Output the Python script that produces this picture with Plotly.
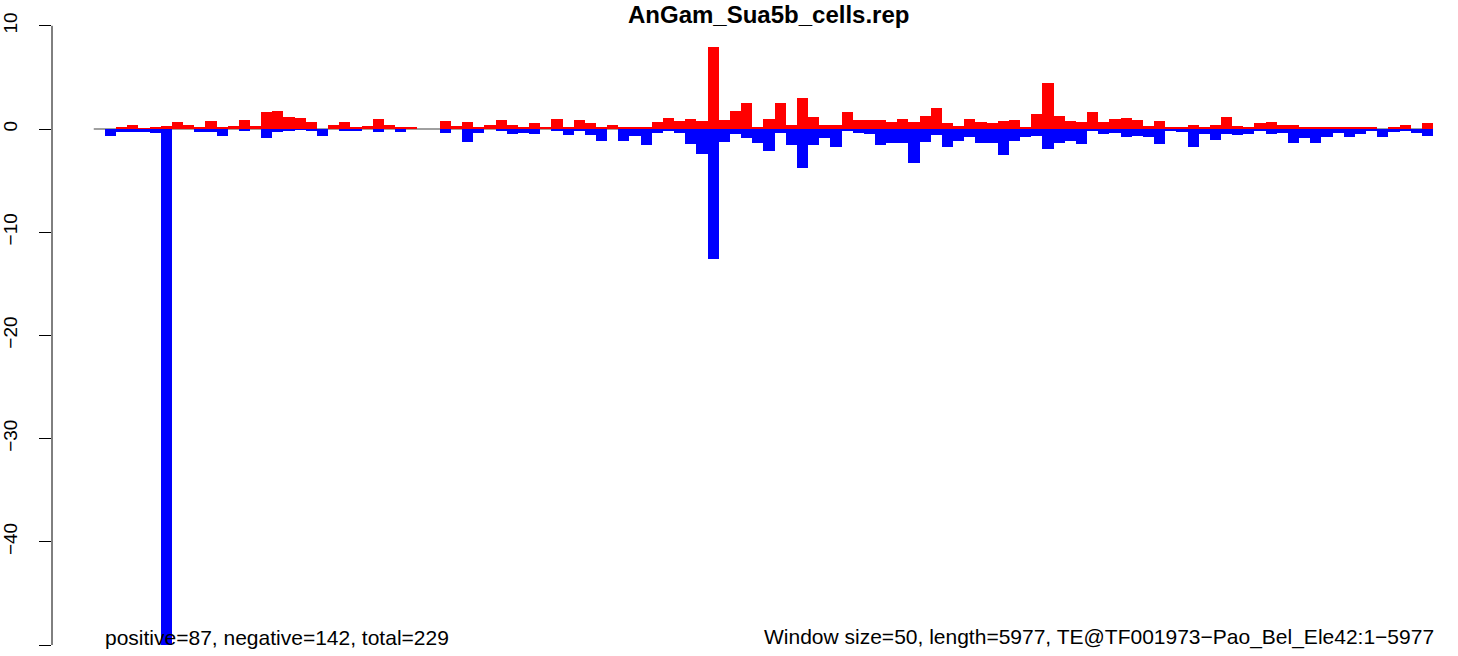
import plotly.graph_objects as go

# ---- data ----
positive = [0, 0.2, 0.42, 0.05, 0.2, 0.3, 0.68, 0.4, 0.2, 0.78,
            0.1, 0.3, 0.88, 0.3, 1.65, 1.75, 1.17, 1.07, 0.68, 0,
            0.39, 0.68, 0.19, 0.29, 0.97, 0.39, 0.19, 0.19, 0, 0,
            0.78, 0.29, 0.68, 0.19, 0.39, 0.87, 0.39, 0.1, 0.58, 0.19,
            0.97, 0.19, 0.87, 0.58, 0.1, 0.39, 0.19, 0.1, 0.1, 0.68,
            1.07, 0.78, 0.97, 0.78, 7.96, 0.87, 1.75, 2.52, 0.1, 0.97,
            2.52, 0.39, 3.0, 1.17, 0.39, 0.39, 1.65, 0.87, 0.87, 0.87,
            0.68, 0.97, 0.68, 1.26, 2.04, 0.58, 0.29, 0.97, 0.68, 0.58,
            0.78, 0.87, 0.19, 1.46, 4.47, 1.26, 0.78, 0.68, 1.65, 0.68,
            0.97, 1.07, 0.87, 0.29, 0.78, 0.19, 0.19, 0.39, 0.19, 0.39,
            1.17, 0.29, 0.19, 0.58, 0.68, 0.39, 0.39, 0.1, 0.1, 0.1,
            0.1, 0.19, 0.1, 0.1, 0, 0.19, 0.39, 0, 0.58]
negative = [-0.68, -0.3, -0.3, -0.3, -0.35, -50, 0, 0, -0.3, -0.3,
            -0.68, 0, -0.2, 0, -0.87, -0.3, -0.2, -0.05, -0.2, -0.68,
            0, -0.15, -0.15, 0, -0.3, 0, -0.3, 0, 0, 0,
            -0.4, 0, -1.26, -0.4, 0, -0.15, -0.48, -0.4, -0.48, 0,
            -0.16, -0.55, -0.16, -0.55, -1.13, 0, -1.13, -0.65, -1.52, -0.36,
            -0.16, -0.36, -1.42, -2.39, -12.6, -1.23, -0.45, -0.84, -1.33, -2.1,
            -0.36, -1.55, -3.75, -1.55, -0.87, -1.72, -0.16, -0.36, -0.45, -1.55,
            -1.33, -1.33, -3.27, -1.23, -0.55, -1.72, -1.13, -0.74, -1.33, -1.33,
            -2.49, -1.13, -0.74, -0.65, -1.91, -1.33, -1.13, -1.42, -0.16, -0.45,
            -0.36, -0.74, -0.65, -0.74, -1.42, -0.16, -0.26, -1.72, -0.45, -1.04,
            -0.45, -0.55, -0.45, -0.16, -0.45, -0.36, -1.33, -0.84, -1.33, -0.74,
            -0.36, -0.74, -0.45, -0.16, -0.74, -0.26, -0.16, -0.36, -0.65]
window_index = list(range(len(positive)))
y_tick_values = [10, 0, -10, -20, -30, -40, -50]
y_tick_labels = ["10", "0", "\u221210", "\u221220", "\u221230", "\u221240", "\u221250"]

title_text = "AnGam_Sua5b_cells.rep"
left_note = "positive=87, negative=142, total=229"
right_note = "Window size=50, length=5977, TE@TF001973\u2212Pao_Bel_Ele42:1\u22125977"

FONT = "Liberation Sans, Arial, Helvetica, sans-serif"
W, H = 1458, 656
ML = 50
PW = W - ML
px_per_unit = 1330 / len(positive)
x_lo = -53 / px_per_unit
x_hi = len(positive) + (PW - 1383) / px_per_unit
y_hi = 129 / 10.32
y_lo = -(H - 129) / 10.32

xc = [i + 0.5 for i in window_index]

fig = go.Figure()
fig.add_trace(go.Bar(x=xc, y=positive, width=1, marker=dict(color="#FF0000", line=dict(width=0)),
                     hoverinfo="y", showlegend=False))
fig.add_trace(go.Bar(x=xc, y=negative, width=1, marker=dict(color="#0000FF", line=dict(width=0)),
                     hoverinfo="y", showlegend=False))

# gray baseline
fig.add_shape(type="line", xref="x", yref="y", x0=-1, x1=len(positive), y0=0, y1=0,
              line=dict(color="#A0A0A0", width=2), layer="below")
# y axis line spanning the tick range only
fig.add_shape(type="line", xref="paper", yref="y", x0=0, x1=0, y0=-50, y1=10,
              line=dict(color="black", width=1))

fig.add_annotation(text="<b>" + title_text + "</b>", xref="paper", yref="paper",
                   x=(768 - ML) / PW, y=1.0, xanchor="center", yanchor="top",
                   showarrow=False, borderpad=0,
                   font=dict(family=FONT, size=24, color="black"))
fig.add_annotation(text=left_note, xref="paper", yref="paper",
                   x=(101 - ML) / PW, y=1 - 637 / H, xanchor="left", yanchor="middle",
                   showarrow=False, font=dict(family=FONT, size=21, color="black"))
fig.add_annotation(text=right_note, xref="paper", yref="paper",
                   x=(1436 - ML) / PW, y=1 - 637 / H, xanchor="right", yanchor="middle",
                   showarrow=False, font=dict(family=FONT, size=21, color="black"))

fig.update_layout(
    width=W, height=H,
    margin=dict(l=ML, r=0, t=0, b=0, pad=0),
    paper_bgcolor="white", plot_bgcolor="white",
    barmode="overlay", bargap=0,
    font=dict(family=FONT, color="black"),
    xaxis=dict(range=[x_lo, x_hi], visible=False, showgrid=False, zeroline=False),
    yaxis=dict(range=[y_lo, y_hi], showgrid=False, zeroline=False, showline=False,
               tickmode="array", tickvals=y_tick_values, ticktext=y_tick_labels,
               ticks="outside", ticklen=12, tickwidth=1, tickcolor="black",
               tickangle=-90, tickfont=dict(family=FONT, size=19, color="black"),
               ticklabelstandoff=14),
)

fig.write_html("out.html", config={"displayModeBar": False},
               post_script="document.body.style.margin='0';document.body.style.padding='0';"
                           "document.body.style.overflow='hidden';")
